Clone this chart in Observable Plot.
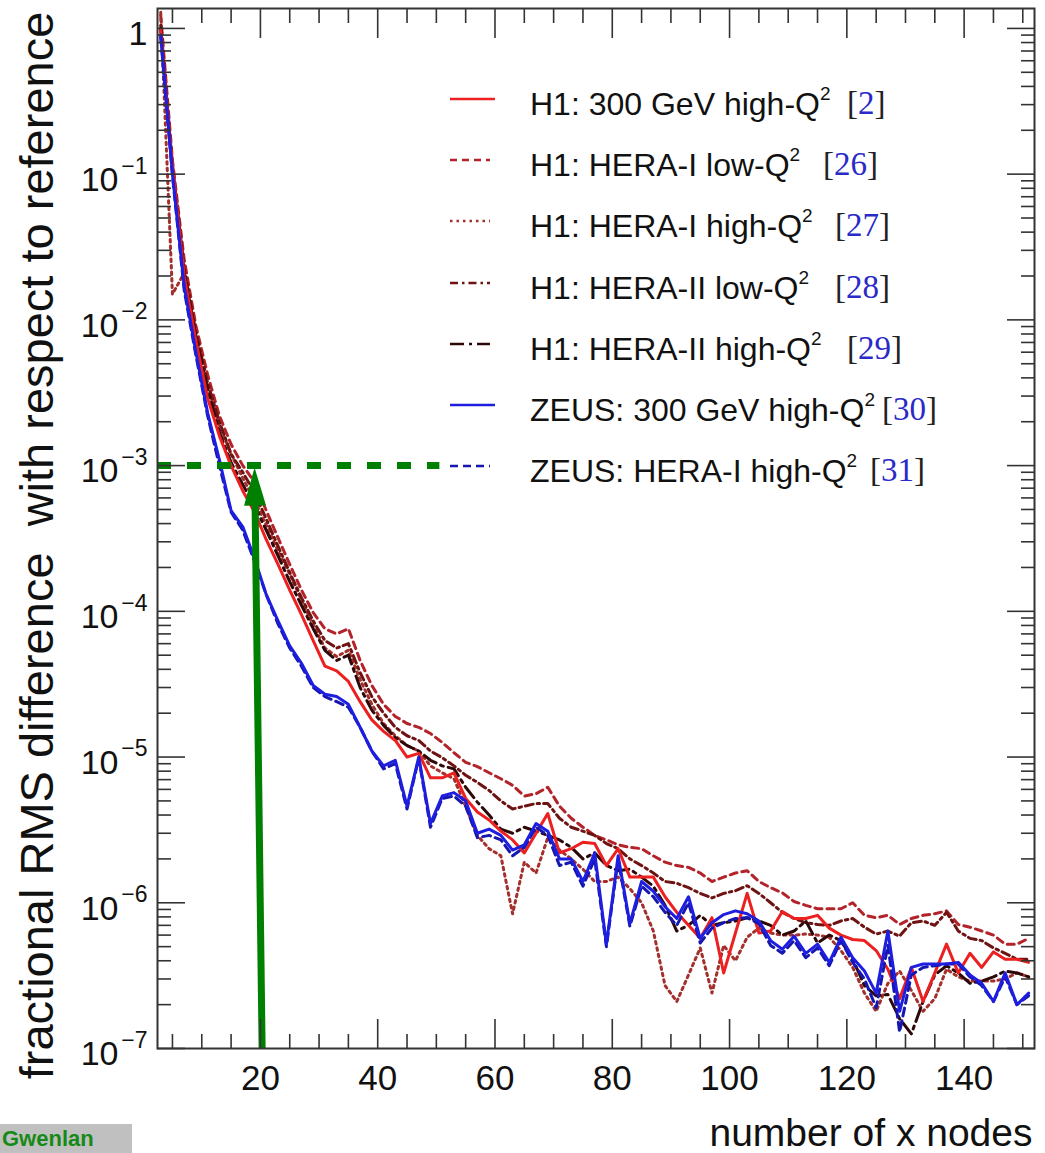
<!DOCTYPE html>
<html><head><meta charset="utf-8">
<script src="https://cdn.jsdelivr.net/npm/d3@7"></script>
<script src="https://cdn.jsdelivr.net/npm/@observablehq/plot@0.6"></script>
<style>
body{margin:0;background:#fff;}
#wrap{position:relative;width:1045px;height:1153px;overflow:hidden;font-family:"Liberation Sans",Arial,Helvetica,sans-serif;}
#wrap svg.plot{position:absolute;left:0;top:0;}
.lg-row{position:absolute;left:0;width:1045px;height:1px;}
.lg-sample{position:absolute;left:448px;}
.lg-text{position:absolute;left:530px;font-size:32px;line-height:32px;color:#111;white-space:nowrap;}
.lg-text sup{font-size:19px;position:relative;top:-4px;vertical-align:top;line-height:19px;}
.lg-ref{position:absolute;font-family:"Liberation Serif","Times New Roman",serif;font-size:33px;line-height:33px;color:#222;white-space:nowrap;}
.lg-ref .num{color:#2a2ac8;}
#tag{position:absolute;left:0;top:1124px;width:132px;height:29px;background:#c0c0c0;}
#tag span{position:absolute;left:2px;top:4px;font:bold 22px/22px "Liberation Sans",Arial,sans-serif;color:#168a16;white-space:nowrap;}
</style></head><body><div id="wrap"></div>
<script>
// ---------- data ----------
const nodes = [3,5,7,9,11,13,15,17,19,21,23,25,27,29,31,33,35,37,39,41,
  43,45,47,49,51,53,55,57,59,61,63,65,67,69,71,73,75,77,79,81,
  83,85,87,89,91,93,95,97,99,101,103,105,107,109,111,113,115,117,119,121,
  123,125,127,129,131,133,135,137,139,141,143,145,147,149,151];

const h1_300 = [0.97,0.115,2.0e-2,7.2e-3,2.9e-3,1.6e-3,1.0e-3,6.7e-4,4.8e-4,3.1e-4,
  2.1e-4,1.4e-4,9.5e-5,6.3e-5,4.2e-5,3.9e-5,3.3e-5,2.4e-5,1.8e-5,1.5e-5,
  1.3e-5,1.0e-5,1.06e-5,7.2e-6,7.2e-6,7.8e-6,5.2e-6,4.2e-6,3.7e-6,3.1e-6,
  2.7e-6,2.2e-6,3.0e-6,4.1e-6,2.2e-6,2.35e-6,2.6e-6,2.55e-6,1.8e-6,2.35e-6,
  1.5e-6,1.5e-6,1.5e-6,1.1e-6,8.6e-7,7.0e-7,5.7e-7,7.9e-7,3.3e-7,6.2e-7,
  1.16e-6,6.2e-7,6.4e-7,8.7e-7,7.8e-7,7.8e-7,8.2e-7,6.7e-7,6.0e-7,5.6e-7,
  5.5e-7,4.7e-7,3.5e-7,2.2e-7,3.6e-7,2.1e-7,3.3e-7,5.2e-7,3.3e-7,4.5e-7,
  3.6e-7,4.6e-7,4.1e-7,4.1e-7,3.9e-7];

const h1_heraI_low = [1.23,0.124,2.6e-2,9.1e-3,4.2e-3,2.2e-3,1.4e-3,1.0e-3,7.7e-4,4.9e-4,
  3.2e-4,2.1e-4,1.4e-4,9.8e-5,7.6e-5,7.0e-5,7.6e-5,4.6e-5,3.1e-5,2.3e-5,
  1.9e-5,1.7e-5,1.6e-5,1.45e-5,1.26e-5,1.07e-5,9.2e-6,8.6e-6,7.8e-6,7.1e-6,
  6.4e-6,5.4e-6,5.6e-6,6.2e-6,4.6e-6,3.8e-6,3.3e-6,2.9e-6,2.7e-6,2.5e-6,
  2.4e-6,2.35e-6,2.1e-6,1.9e-6,1.8e-6,1.75e-6,1.6e-6,1.4e-6,1.5e-6,1.6e-6,
  1.66e-6,1.4e-6,1.27e-6,1.17e-6,1.02e-6,9.6e-7,9.1e-7,9.1e-7,9.1e-7,1.0e-6,
  8.2e-7,7.9e-7,8.2e-7,7.1e-7,7.8e-7,8.2e-7,8.4e-7,8.8e-7,7.1e-7,6.8e-7,
  6.4e-7,6.0e-7,5.2e-7,5.2e-7,5.7e-7];

const h1_heraI_high = [1.29,1.5e-2,2.1e-2,7.8e-3,3.5e-3,1.9e-3,1.2e-3,8.2e-4,5.8e-4,3.9e-4,
  2.6e-4,1.8e-4,1.2e-4,8.0e-5,5.6e-5,4.9e-5,5.4e-5,3.4e-5,2.3e-5,1.7e-5,
  1.4e-5,1.2e-5,1.1e-5,8.7e-6,7.8e-6,7.1e-6,4.6e-6,2.9e-6,2.35e-6,2.1e-6,
  8.4e-7,1.9e-6,1.6e-6,2.8e-6,2.3e-6,2.0e-6,1.7e-6,1.4e-6,1.4e-6,1.5e-6,
  1.25e-6,1.0e-6,6.4e-7,2.7e-7,2.1e-7,3.2e-7,4.9e-7,2.4e-7,5.1e-7,4.0e-7,
  5.8e-7,6.7e-7,6.2e-7,6.0e-7,6.0e-7,6.1e-7,6.0e-7,5.8e-7,4.7e-7,3.6e-7,
  2.4e-7,1.8e-7,2.8e-7,3.4e-7,2.5e-7,1.8e-7,2.2e-7,3.5e-7,3.1e-7,2.9e-7,
  2.9e-7,2.9e-7,3.0e-7,3.3e-7,3.1e-7];

const h1_heraII_low = [1.05,0.115,2.25e-2,8.2e-3,3.7e-3,2.0e-3,1.2e-3,9.0e-4,6.5e-4,4.3e-4,
  2.8e-4,1.85e-4,1.24e-4,8.6e-5,6.3e-5,5.6e-5,6.0e-5,3.8e-5,2.6e-5,2.0e-5,
  1.6e-5,1.4e-5,1.3e-5,1.1e-5,9.9e-6,8.7e-6,7.5e-6,6.7e-6,5.9e-6,5.0e-6,
  4.4e-6,4.6e-6,4.8e-6,4.8e-6,3.8e-6,3.3e-6,3.1e-6,2.9e-6,2.55e-6,2.35e-6,
  2.0e-6,1.8e-6,1.6e-6,1.4e-6,1.36e-6,1.27e-6,1.16e-6,1.08e-6,1.16e-6,1.21e-6,
  1.31e-6,1.16e-6,1.0e-6,8.6e-7,7.8e-7,7.3e-7,7.1e-7,7.0e-7,7.5e-7,7.8e-7,
  6.8e-7,6.1e-7,6.4e-7,5.9e-7,7.3e-7,7.5e-7,7.0e-7,8.6e-7,6.4e-7,5.7e-7,
  5.5e-7,4.9e-7,4.5e-7,4.1e-7,4.1e-7];

const h1_heraII_high = [1.0,0.109,2.1e-2,7.6e-3,3.3e-3,1.7e-3,1.05e-3,7.4e-4,5.3e-4,3.6e-4,
  2.4e-4,1.6e-4,1.1e-4,7.6e-5,5.4e-5,4.6e-5,5.0e-5,3.0e-5,2.1e-5,1.65e-5,
  1.36e-5,1.2e-5,1.1e-5,9.5e-6,8.7e-6,8.3e-6,6.2e-6,4.9e-6,4.0e-6,3.2e-6,
  3.0e-6,3.3e-6,3.1e-6,2.9e-6,2.7e-6,2.4e-6,2.0e-6,2.2e-6,1.8e-6,1.66e-6,
  1.7e-6,1.5e-6,1.3e-6,9.6e-7,6.4e-7,7.0e-7,8.2e-7,7.0e-7,7.3e-7,7.5e-7,
  7.9e-7,7.5e-7,7.0e-7,6.0e-7,6.4e-7,7.5e-7,5.3e-7,6.0e-7,5.5e-7,4.1e-7,
  2.7e-7,2.3e-7,2.35e-7,1.6e-7,1.26e-7,2.1e-7,3.2e-7,3.7e-7,3.3e-7,2.8e-7,
  2.9e-7,3.1e-7,3.4e-7,3.3e-7,3.1e-7];

const zeus_300 = [0.90,0.10,1.7e-2,6.0e-3,2.3e-3,1.1e-3,4.9e-4,3.8e-4,2.3e-4,1.3e-4,
  8.6e-5,5.8e-5,4.4e-5,3.1e-5,2.7e-5,2.6e-5,2.3e-5,1.6e-5,1.1e-5,8.7e-6,
  9.5e-6,4.6e-6,1.0e-5,3.5e-6,5.4e-6,5.7e-6,5.0e-6,3.0e-6,3.2e-6,2.9e-6,
  2.3e-6,2.5e-6,3.5e-6,3.1e-6,2.0e-6,2.0e-6,1.4e-6,2.2e-6,5.2e-7,2.1e-6,
  7.2e-7,1.4e-6,1.2e-6,9.4e-7,7.8e-7,1.1e-6,5.7e-7,7.3e-7,8.3e-7,8.8e-7,
  8.4e-7,7.5e-7,5.5e-7,4.8e-7,5.9e-7,4.5e-7,5.2e-7,3.9e-7,5.8e-7,4.2e-7,
  3.4e-7,2.4e-7,6.4e-7,1.8e-7,3.6e-7,3.8e-7,3.8e-7,3.8e-7,3.9e-7,3.2e-7,
  2.8e-7,2.1e-7,3.3e-7,2.0e-7,2.4e-7];

const zeus_heraI = [0.87,9.8e-2,1.6e-2,5.7e-3,2.2e-3,1.0e-3,4.8e-4,3.6e-4,2.2e-4,1.3e-4,
  8.2e-5,5.6e-5,4.2e-5,3.0e-5,2.6e-5,2.4e-5,2.2e-5,1.6e-5,1.1e-5,8.3e-6,
  9.0e-6,4.4e-6,9.8e-6,3.3e-6,5.2e-6,5.4e-6,4.6e-6,2.8e-6,2.9e-6,2.7e-6,
  2.1e-6,2.4e-6,3.3e-6,2.9e-6,1.8e-6,1.9e-6,1.3e-6,2.0e-6,5.0e-7,2.0e-6,
  6.9e-7,1.3e-6,1.1e-6,8.6e-7,7.0e-7,1.0e-6,5.3e-7,6.7e-7,7.3e-7,7.8e-7,
  7.9e-7,7.2e-7,5.1e-7,4.5e-7,5.5e-7,4.2e-7,4.9e-7,3.7e-7,5.5e-7,3.9e-7,
  3.0e-7,1.9e-7,5.1e-7,1.3e-7,3.2e-7,3.6e-7,3.7e-7,3.8e-7,3.8e-7,3.1e-7,
  2.7e-7,2.1e-7,3.1e-7,2.0e-7,2.3e-7];

const seriesNames = ["H1: 300 GeV high-Q", "H1: HERA-I low-Q", "H1: HERA-I high-Q",
  "H1: HERA-II low-Q", "H1: HERA-II high-Q", "ZEUS: 300 GeV high-Q", "ZEUS: HERA-I high-Q"];
const seriesRefs = ["2", "26", "27", "28", "29", "30", "31"];
const seriesValues = [h1_300, h1_heraI_low, h1_heraI_high, h1_heraII_low, h1_heraII_high, zeus_300, zeus_heraI];

const xMajor = [20, 40, 60, 80, 100, 120, 140];
const xMinor = [5,10,15,25,30,35,45,50,55,65,70,75,85,90,95,105,110,115,125,130,135,145,150];
const yDecades = [1, 1e-1, 1e-2, 1e-3, 1e-4, 1e-5, 1e-6, 1e-7];
const yExponents = ["", "\u22121", "\u22122", "\u22123", "\u22124", "\u22125", "\u22126", "\u22127"];

// annotation (green): threshold line and arrow at ~20 nodes
const threshold = [{y: 1e-3, x1: 2.45, x2: 50.6}];
const arrow = [{x1: 20.29, y1: 1e-7, x2: 19.07, y2: 6.2e-4, xt: 19.0, yt: 9.7e-4}];

// ---------- styles ----------
const styles = [
  {color: "#ec2020", dash: null},
  {color: "#b3232a", dash: "7,5"},
  {color: "#a3302c", dash: "2.5,4"},
  {color: "#6e1212", dash: "8,4,2.5,4"},
  {color: "#2e0808", dash: "14,5,3,5"},
  {color: "#1e1ee0", dash: null},
  {color: "#1616b0", dash: "8,5"}
];
const drawOrder = [1, 2, 3, 4, 0, 6, 5];

const yMinor = [];
for (const d of yDecades.slice(1)) for (const m of [2,3,4,5,6,7,8,9]) yMinor.push(m * d);

const lineMarks = drawOrder.map(i => {
  const data = nodes.map((x, j) => ({x, y: seriesValues[i][j]}));
  return Plot.line(data, {x: "x", y: "y", stroke: styles[i].color, strokeWidth: 3,
    strokeDasharray: styles[i].dash, strokeLinejoin: "round", clip: true});
});

const green = "#008000";
const tickStyle = {stroke: "#333", strokeWidth: 1.6, tickFormat: () => "", label: null};

const chart = Plot.plot({
  width: 1045, height: 1153,
  marginLeft: 157, marginRight: 11, marginTop: 8, marginBottom: 105,
  style: {fontFamily: '"Liberation Sans", Arial, Helvetica, sans-serif', background: "transparent", color: "#111", overflow: "visible"},
  x: {domain: [2.45, 152]},
  y: {type: "log", domain: [1e-7, 1.37]},
  marks: [
    ...lineMarks,
    Plot.ruleY(threshold, {y: "y", x1: "x1", x2: "x2", stroke: green, strokeWidth: 7, strokeDasharray: "14,16"}),
    Plot.link(arrow, {x1: "x1", y1: "y1", x2: "x2", y2: "y2", stroke: green, strokeWidth: 7}),
    Plot.vector(arrow, {x: "xt", y: "yt", anchor: "end", length: 38, r: 11, rotate: -0.75, shape: "spike", fill: green, stroke: "none"}),
    // ticks, pointing inwards
    Plot.axisX(xMajor, {anchor: "bottom", tickSize: 29, dy: -29, ...tickStyle}),
    Plot.axisX(xMinor, {anchor: "bottom", tickSize: 14, dy: -14, ...tickStyle}),
    Plot.axisX(xMajor, {anchor: "top", tickSize: 29, dy: 29, ...tickStyle}),
    Plot.axisX(xMinor, {anchor: "top", tickSize: 14, dy: 14, ...tickStyle}),
    Plot.axisY(yDecades, {anchor: "left", tickSize: 28, dx: 28, ...tickStyle}),
    Plot.axisY(yMinor, {anchor: "left", tickSize: 14, dx: 14, ...tickStyle}),
    Plot.axisY(yDecades, {anchor: "right", tickSize: 28, dx: -28, ...tickStyle}),
    Plot.axisY(yMinor, {anchor: "right", tickSize: 14, dx: -14, ...tickStyle}),
    // tick labels
    Plot.axisX(xMajor, {anchor: "bottom", tickSize: 0, tickPadding: 17, fontSize: 35, label: null, stroke: null}),
    Plot.text(yDecades.slice(0, 1), {y: d => d, frameAnchor: "left", text: () => "1", textAnchor: "end", dx: -10, dy: 6, fontSize: 34}),
    Plot.text(yDecades.slice(1), {y: d => d, frameAnchor: "left", text: () => "10", textAnchor: "end", dx: -39, dy: 6, fontSize: 34}),
    Plot.text(yDecades.slice(1), {y: d => d, frameAnchor: "left", text: (d, i) => yExponents[i + 1], textAnchor: "end", dx: -10, dy: -8, fontSize: 23}),
    // axis titles
    Plot.text(["number of x nodes"], {frameAnchor: "bottom-right", dx: -2, dy: 97, textAnchor: "end", lineAnchor: "bottom", fontSize: 39}),
    Plot.text(["fractional RMS difference \u00a0with respect to reference"], {frameAnchor: "left", rotate: -90, dx: -105, dy: 17, textAnchor: "middle", lineAnchor: "bottom", fontSize: 47}),
    Plot.frame({stroke: "#333", strokeWidth: 2})
  ]
});
chart.classList.add("plot");
const wrap = document.getElementById("wrap");
wrap.appendChild(chart);

// ---------- legend ----------
const sampleWidths = [45, 40, 40, 40, 40, 45, 40];
seriesNames.forEach((name, i) => {
  const cy = 99 + i * 61.2;
  const row = document.createElement("div");
  row.className = "lg-row";
  row.style.top = "0px";
  const w = sampleWidths[i];
  const dash = styles[i].dash ? `stroke-dasharray="${styles[i].dash}"` : "";
  row.innerHTML =
    `<svg class="lg-sample" style="top:${cy - 5}px" width="${w + 4}" height="10"><line x1="2" x2="${w + 2}" y1="5" y2="5" stroke="${styles[i].color}" stroke-width="2.6" ${dash}/></svg>` +
    `<div class="lg-text" style="top:${cy - 11}px">${name}<sup>2</sup></div>`;
  wrap.appendChild(row);
});
const refLeft = [847, 823, 835, 835, 847, 882, 870];
seriesRefs.forEach((r, i) => {
  const cy = 99 + i * 61.2;
  const el = document.createElement("div");
  el.className = "lg-ref";
  el.style.left = refLeft[i] + "px";
  el.style.top = (cy - 12) + "px";
  el.innerHTML = `[<span class="num">${r}</span>]`;
  wrap.appendChild(el);
});
const tag = document.createElement("div");
tag.id = "tag";
tag.innerHTML = "<span>Gwenlan</span>";
wrap.appendChild(tag);
</script></body></html>
